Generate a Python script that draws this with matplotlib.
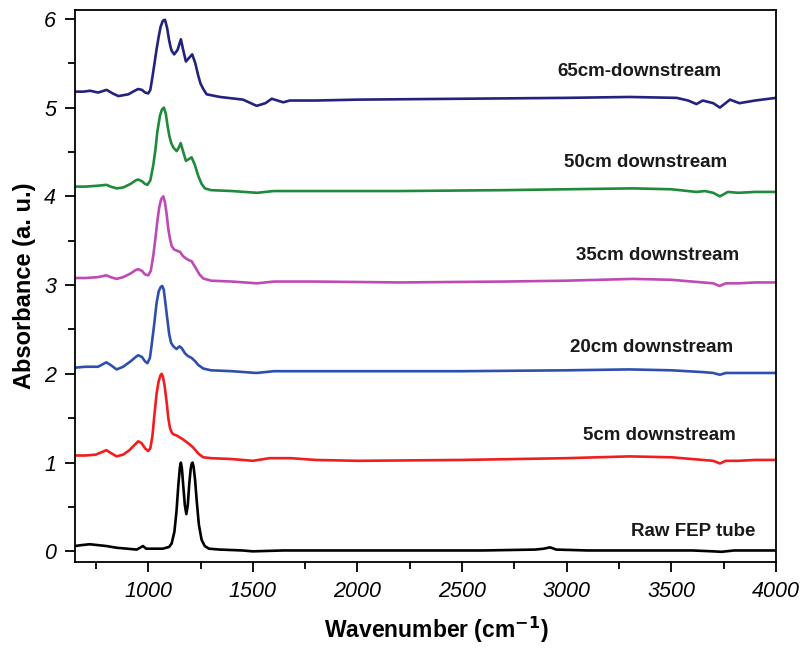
import matplotlib
matplotlib.use("Agg")
import matplotlib.pyplot as plt
from matplotlib.ticker import MultipleLocator

plt.rcParams['font.family'] = ['Liberation Sans', 'DejaVu Sans']

# ---- data ----
x_raw = [650, 680, 720, 760, 800, 850, 900, 945, 975, 990, 1020, 1070, 1100, 1112, 1125, 1135, 1144, 1151, 1156, 1161,
         1168, 1175, 1182, 1189, 1196, 1203, 1208, 1212, 1217, 1224, 1232, 1242, 1255, 1270, 1290, 1343, 1450, 1500,
         1645, 1800, 2000, 2300, 2600, 2850, 2890, 2920, 2950, 3100, 3400, 3600, 3700, 3740, 3800, 4000]
y_raw = [0.06, 0.07, 0.08, 0.07, 0.06, 0.04, 0.03, 0.02, 0.06, 0.03, 0.03, 0.03, 0.05, 0.09, 0.22, 0.45, 0.75, 0.94,
         1.00, 0.93, 0.72, 0.52, 0.42, 0.52, 0.76, 0.93, 0.99, 1.00, 0.95, 0.80, 0.56, 0.30, 0.13, 0.06, 0.03, 0.02,
         0.01, 0.00, 0.01, 0.01, 0.01, 0.01, 0.01, 0.02, 0.03, 0.045, 0.02, 0.01, 0.01, 0.01, 0.00, -0.005, 0.01, 0.01]

x_5 = [650, 700, 750, 780, 800, 820, 849, 880, 910, 935, 952, 968, 985, 1000, 1010, 1020, 1030, 1040, 1050, 1058,
       1064, 1070, 1078, 1088, 1096, 1104, 1112, 1120, 1140, 1167, 1190, 1215, 1240, 1263, 1300, 1400, 1500, 1580,
       1680, 1800, 2000, 2500, 3000, 3300, 3500, 3650, 3700, 3732, 3760, 3820, 3900, 4000]
y_5 = [1.08, 1.08, 1.09, 1.12, 1.14, 1.11, 1.07, 1.09, 1.14, 1.20, 1.24, 1.22, 1.16, 1.13, 1.16, 1.30, 1.55, 1.78,
       1.92, 1.98, 2.00, 1.97, 1.87, 1.68, 1.50, 1.39, 1.34, 1.32, 1.30, 1.26, 1.22, 1.17, 1.10, 1.06, 1.05, 1.04,
       1.02, 1.05, 1.05, 1.03, 1.02, 1.03, 1.05, 1.07, 1.06, 1.03, 1.02, 0.99, 1.02, 1.02, 1.03, 1.03]

x_20 = [650, 700, 760, 800, 820, 849, 880, 915, 940, 952, 970, 985, 996, 1008, 1016, 1028, 1040, 1050, 1060, 1067,
        1074, 1082, 1091, 1100, 1109, 1120, 1135, 1150, 1160, 1176, 1190, 1207, 1225, 1239, 1263, 1300, 1400, 1517,
        1600, 1800, 2000, 2500, 3000, 3300, 3500, 3650, 3700, 3732, 3760, 3820, 3900, 4000]
y_20 = [2.07, 2.08, 2.08, 2.13, 2.10, 2.05, 2.08, 2.14, 2.19, 2.21, 2.19, 2.14, 2.12, 2.18, 2.32, 2.55, 2.80, 2.93,
        2.98, 2.99, 2.95, 2.80, 2.62, 2.45, 2.35, 2.31, 2.28, 2.31, 2.29, 2.23, 2.20, 2.18, 2.14, 2.10, 2.06, 2.04,
        2.03, 2.01, 2.03, 2.03, 2.03, 2.03, 2.04, 2.05, 2.04, 2.02, 2.01, 1.99, 2.01, 2.01, 2.01, 2.01]

x_35 = [650, 700, 760, 800, 820, 849, 880, 915, 940, 952, 970, 985, 1000, 1012, 1024, 1034, 1043, 1052, 1062, 1072,
        1080, 1088, 1096, 1104, 1112, 1124, 1136, 1144, 1152, 1165, 1180, 1195, 1207, 1225, 1245, 1263, 1300, 1400,
        1520, 1600, 1800, 2200, 2700, 3000, 3316, 3500, 3650, 3700, 3730, 3760, 3820, 3900, 4000]
y_35 = [3.08, 3.08, 3.09, 3.11, 3.09, 3.07, 3.09, 3.13, 3.17, 3.18, 3.16, 3.12, 3.11, 3.16, 3.33, 3.52, 3.71, 3.87,
        3.97, 4.00, 3.93, 3.80, 3.63, 3.52, 3.44, 3.40, 3.39, 3.38, 3.375, 3.33, 3.30, 3.28, 3.27, 3.20, 3.12, 3.075,
        3.05, 3.04, 3.02, 3.04, 3.04, 3.03, 3.04, 3.05, 3.07, 3.06, 3.03, 3.02, 2.99, 3.02, 3.02, 3.03, 3.03]

x_50 = [650, 700, 760, 800, 820, 849, 880, 915, 940, 952, 970, 985, 996, 1010, 1024, 1034, 1043, 1056, 1066, 1075,
        1084, 1092, 1101, 1110, 1120, 1136, 1146, 1155, 1165, 1180, 1194, 1207, 1222, 1239, 1255, 1271, 1300, 1400,
        1520, 1600, 1800, 2200, 2700, 3000, 3316, 3500, 3620, 3660, 3700, 3732, 3770, 3820, 3900, 4000]
y_50 = [4.11, 4.11, 4.12, 4.13, 4.11, 4.09, 4.10, 4.14, 4.18, 4.19, 4.17, 4.14, 4.13, 4.18, 4.35, 4.52, 4.72, 4.91,
        4.98, 5.00, 4.93, 4.80, 4.68, 4.60, 4.55, 4.51, 4.55, 4.60, 4.52, 4.40, 4.42, 4.44, 4.36, 4.23, 4.14, 4.09,
        4.07, 4.06, 4.04, 4.06, 4.06, 4.06, 4.07, 4.08, 4.09, 4.08, 4.05, 4.06, 4.04, 4.00, 4.05, 4.04, 4.05, 4.05]

x_65 = [650, 690, 722, 761, 801, 830, 857, 905, 935, 952, 970, 985, 1000, 1010, 1021, 1030, 1040, 1050, 1059, 1070,
        1080, 1090, 1099, 1106, 1112, 1124, 1140, 1156, 1166, 1180, 1195, 1210, 1225, 1239, 1250, 1263, 1279, 1343,
        1453, 1518, 1560, 1590, 1645, 1677, 1800, 2000, 2500, 3000, 3300, 3525, 3580, 3620, 3650, 3700, 3732, 3780,
        3825, 3900, 4000]
y_65 = [5.18, 5.18, 5.19, 5.17, 5.20, 5.16, 5.13, 5.15, 5.19, 5.21, 5.20, 5.17, 5.16, 5.20, 5.36, 5.50, 5.66, 5.80,
        5.91, 5.98, 5.99, 5.90, 5.77, 5.69, 5.64, 5.60, 5.65, 5.77, 5.66, 5.52, 5.56, 5.60, 5.50, 5.36, 5.27, 5.21,
        5.15, 5.12, 5.09, 5.02, 5.05, 5.10, 5.06, 5.08, 5.08, 5.09, 5.10, 5.11, 5.12, 5.11, 5.08, 5.04, 5.08, 5.05,
        5.00, 5.09, 5.05, 5.08, 5.11]

labels = ["Raw FEP tube", "5cm downstream", "20cm downstream", "35cm downstream", "50cm downstream",
          "65cm-downstream"]
label_x = [3603, 3443, 3405, 3433, 3376, 3349]
label_y = [0.22, 1.30, 2.30, 3.33, 4.38, 5.41]
colors = ["#000000", "#F01E1E", "#2F4FB0", "#C04AB4", "#1E8A3A", "#22237E"]

xs = [x_raw, x_5, x_20, x_35, x_50, x_65]
ys = [y_raw, y_5, y_20, y_35, y_50, y_65]

# ---- figure ----
fig = plt.figure(figsize=(8.04, 6.50), dpi=100)
ax = fig.add_axes([75 / 804, 88 / 650, 701 / 804, 552 / 650])

for x, y, c in zip(xs, ys, colors):
    ax.plot(x, y, color=c, lw=1.9, solid_joinstyle='round', solid_capstyle='round')

for t, tx, ty in zip(labels, label_x, label_y):
    ax.text(tx, ty, t, ha='center', va='center', fontsize=13.5, fontweight='bold', color='#1a1a1a')

ax.set_xlim(650, 4000)
ax.set_ylim(-0.12, 6.1)
ax.xaxis.set_major_locator(MultipleLocator(500))
ax.xaxis.set_minor_locator(MultipleLocator(250))
ax.yaxis.set_major_locator(MultipleLocator(1))
ax.yaxis.set_minor_locator(MultipleLocator(0.5))
ax.tick_params(which='major', direction='out', length=7.5, width=1.3, labelsize=15.5, pad=6)
ax.tick_params(which='minor', direction='out', length=5, width=1.3)
ax.tick_params(top=False, right=False)
for lab in ax.get_xticklabels() + ax.get_yticklabels():
    lab.set_fontstyle('italic')
for s in ax.spines.values():
    s.set_linewidth(1.3)

ax.set_xlabel("Wavenumber (cm$^{\\mathbf{-1}}$)", fontsize=16.5, fontweight='bold', labelpad=8)
ax.xaxis.set_label_coords(0.515, -0.095)
ax.set_ylabel("Absorbance (a. u.)", fontsize=17, fontweight='bold', labelpad=6)

fig.savefig("out.png", dpi=100)
